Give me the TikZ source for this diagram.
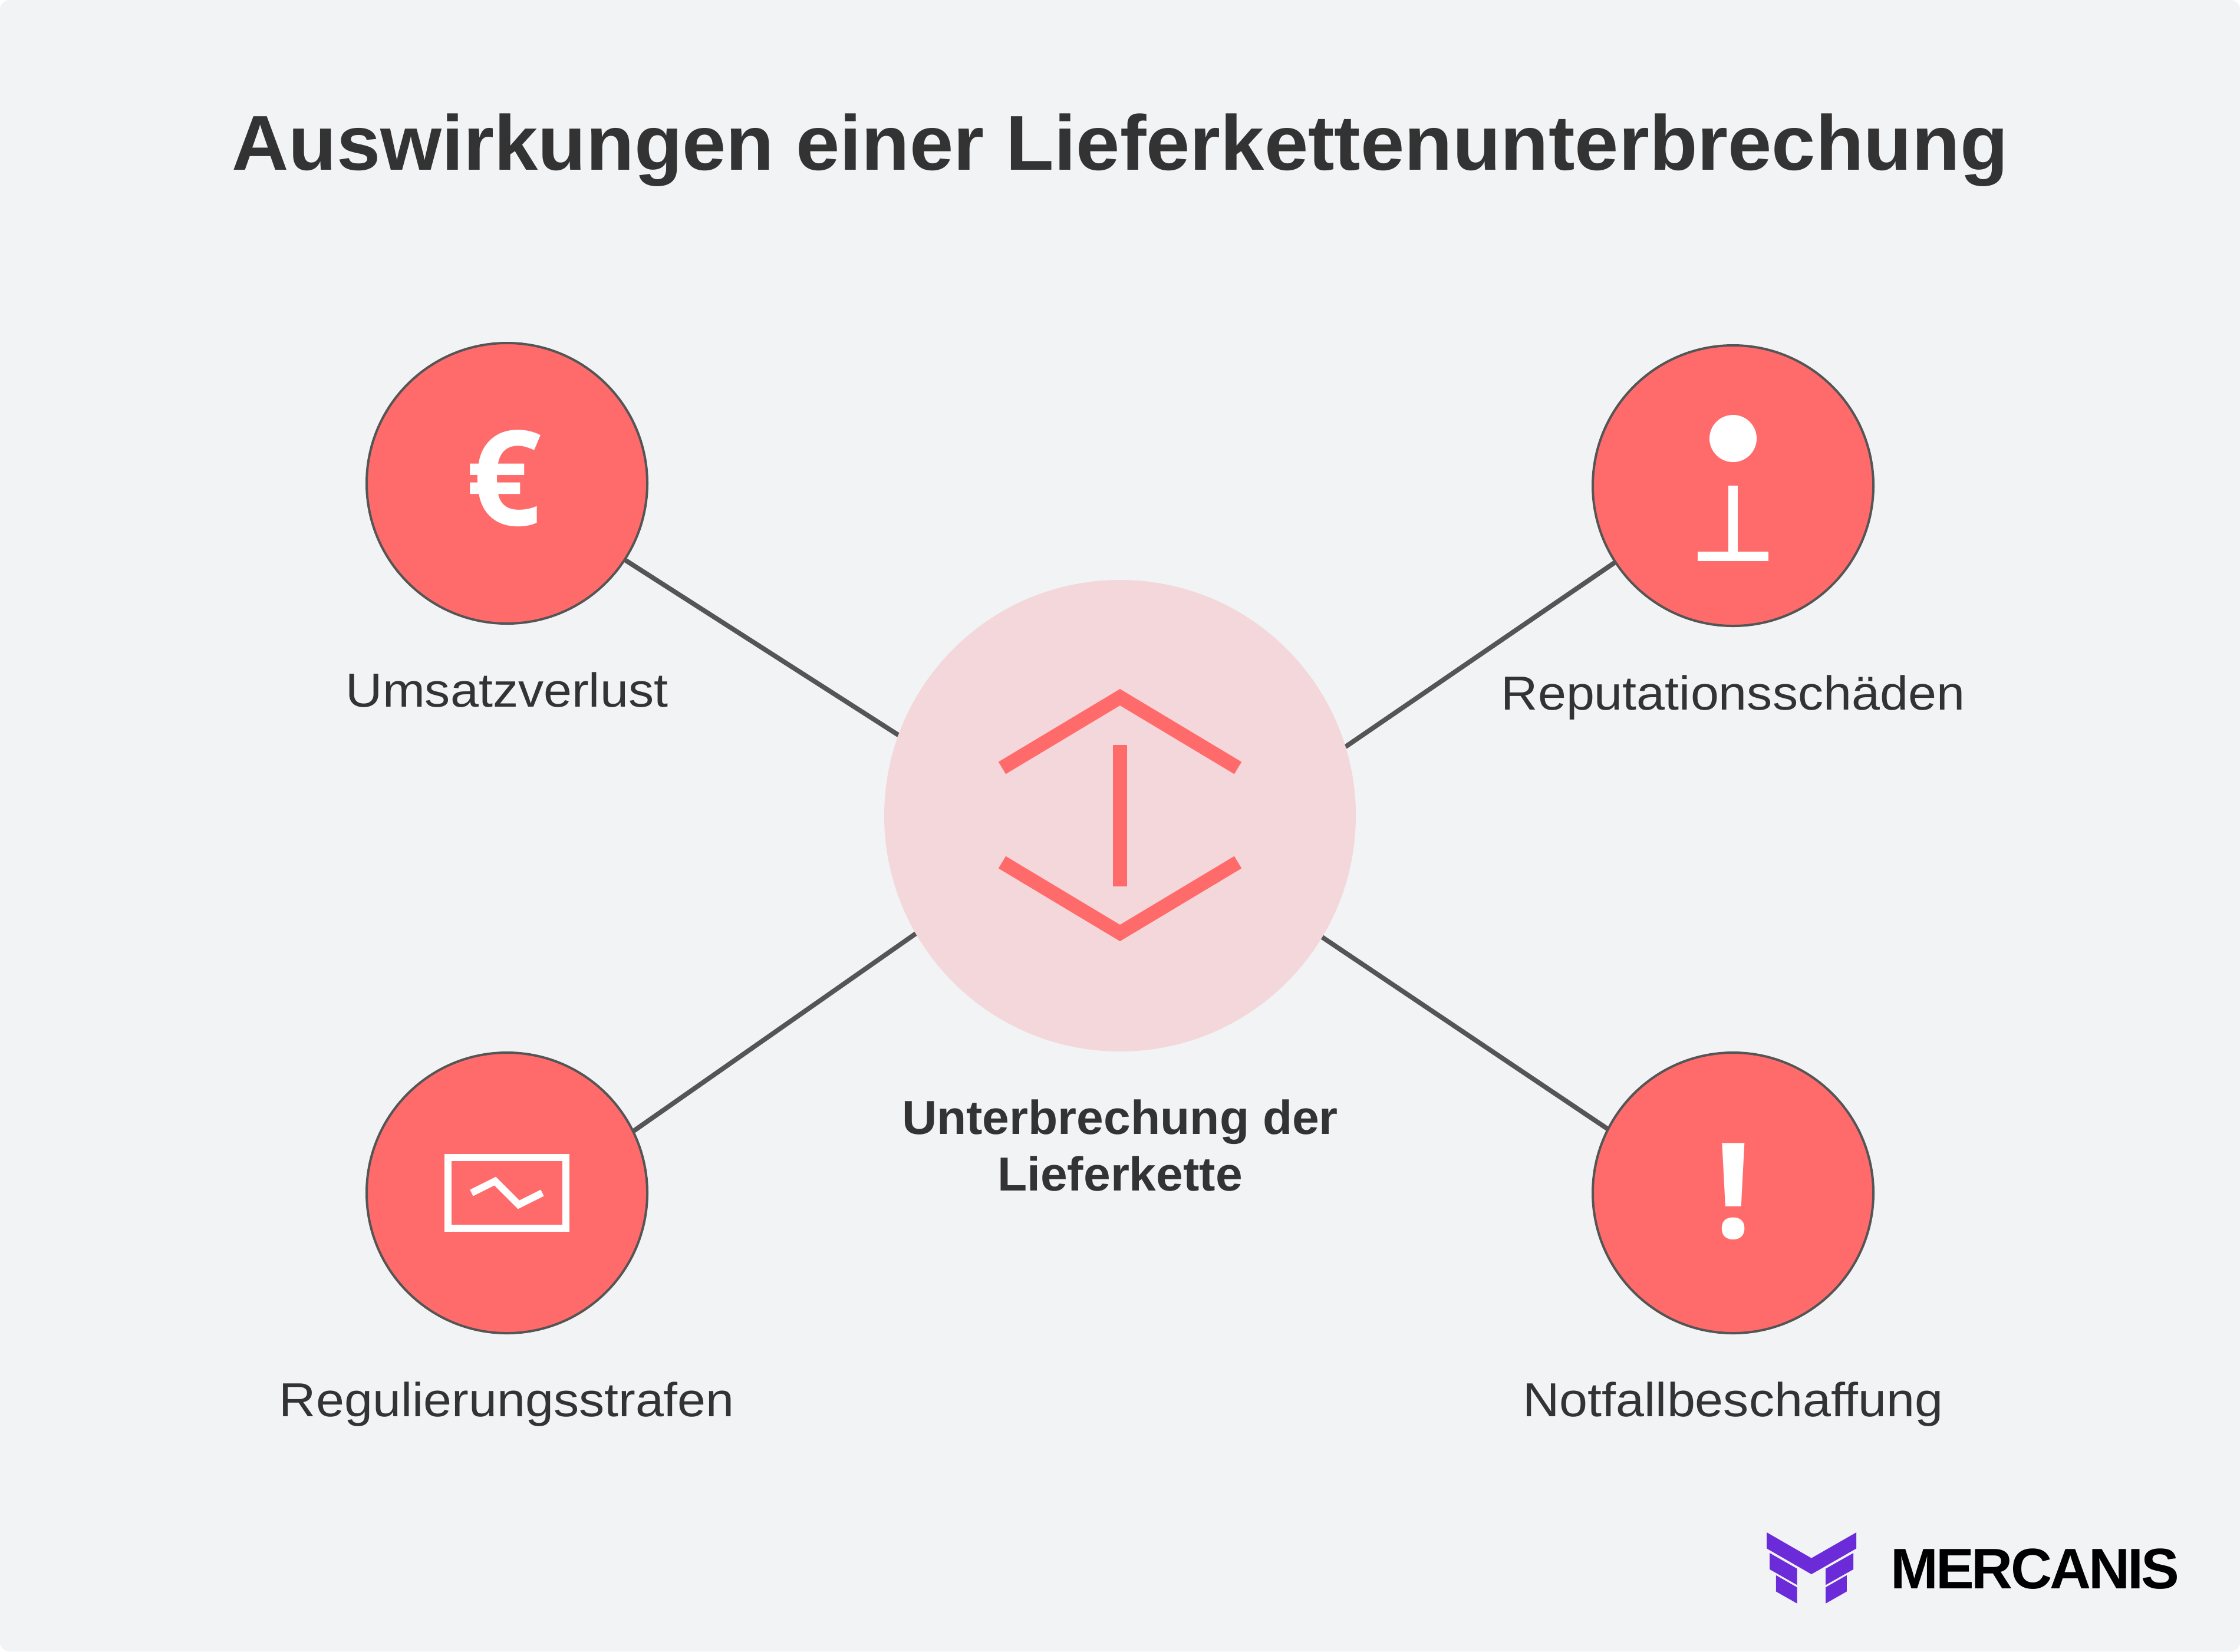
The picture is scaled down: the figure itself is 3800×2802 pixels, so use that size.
\documentclass[tikz,border=0pt]{standalone}
\usepackage{fontspec}
\usetikzlibrary{backgrounds}
\setmainfont{Liberation Sans}
\newfontfamily\iconfont{Open Sans}
\newfontfamily\logofont[LetterSpace=-4]{Liberation Sans}
\newfontfamily\titlefont[FakeStretch=1.012]{Liberation Sans}
\newfontfamily\hubfont[FakeStretch=1.015]{Liberation Sans}
\newfontfamily\lblfont[FakeStretch=1.065]{Liberation Sans}
\definecolor{bgc}{HTML}{F1F3F5}
\definecolor{coral}{HTML}{FF6B6B}
\definecolor{hubc}{HTML}{F4D7DA}
\definecolor{linec}{HTML}{555555}
\definecolor{textc}{HTML}{333333}
\definecolor{purp}{HTML}{6C2BD9}
\tikzset{
  x=0.2pt,y=-0.2pt,
  spoke/.style={circle,fill=coral,draw=linec,line width=0.8pt,minimum size=95.2pt,inner sep=0pt,outer sep=0pt},
  hub/.style={circle,fill=hubc,minimum size=160pt,inner sep=0pt,outer sep=0pt},
  link/.style={draw=linec,line width=1.6pt},
  hubicon/.style={draw=coral,line width=4.8pt,miter limit=10},
  whiteline/.style={draw=white,line width=2.4pt,miter limit=10},
  lbl/.style={anchor=base,text=textc,font=\lblfont\fontsize{16.2}{20}\selectfont,inner sep=0pt},
  hublbl/.style={anchor=base,text=textc,font=\hubfont\bfseries\fontsize{16.2}{20}\selectfont,inner sep=0pt},
  glyph/.style={anchor=base,text=white,inner sep=0pt,font=\iconfont\bfseries\fontsize{45}{54}\selectfont},
  logopoly/.style={fill=purp,draw=none},
}
\begin{document}
\begin{tikzpicture}
\useasboundingbox (0,0) rectangle (3800,2802);
\begin{scope}[on background layer]
\fill[white] (0,0) rectangle (3800,2802);
\fill[bgc,rounded corners=3.2pt] (0,0) rectangle (3800,2802);
\end{scope}
\node[anchor=base,text=textc,inner sep=0pt,font=\titlefont\bfseries\fontsize{26.4}{32}\selectfont] (title) at (1900,288) {Auswirkungen einer Lieferkettenunterbrechung};
\node[hub] (center) at (1900,1384) {};
\node[spoke] (s1) at (860,820) {};
\node[spoke] (s2) at (2940,824) {};
\node[spoke] (s3) at (860,2024) {};
\node[spoke] (s4) at (2940,2024) {};
\begin{scope}[on background layer]
\draw[link] (s1.-33.4) -- (center.160.6);
\draw[link] (s2.213.2) -- (center.17.4);
\draw[link] (s3.26.5) -- (center.210.3);
\draw[link] (s4.153.5) -- (center.-31.4);
\end{scope}
% hub icon
\draw[hubicon] (1700,1303) -- (1900,1183) -- (2100,1303);
\draw[hubicon] (1700,1463) -- (1900,1583) -- (2100,1463);
\draw[hubicon] (1900,1264) -- (1900,1504);
% icons
\node[glyph] (euro) at (855,891) {€};
\node[glyph] (bang) at (2941,2100) {!};
\fill[white] (2940,744) circle [radius=40];
\fill[white] (2932,824) rectangle (2948,940);
\fill[white] (2880,936) rectangle (3000,952);
\draw[whiteline] (760,1964) rectangle (960,2084);
\draw[whiteline] (800,2024) -- (840,2004) -- (880,2044) -- (920,2024);
% labels
\node[lbl] (l1) at (860,1199) {Umsatzverlust};
\node[lbl] (l2) at (2940,1204) {Reputationsschäden};
\node[lbl] (l3) at (860,2403) {Regulierungsstrafen};
\node[lbl] (l4) at (2940,2403) {Notfallbeschaffung};
\node[hublbl] (h1) at (1900,1924) {Unterbrechung der};
\node[hublbl] (h2) at (1900,2020) {Lieferkette};
% logo
\fill[logopoly] (2997.1,2600) -- (3072.9,2643.7) -- (3149.2,2600) -- (3149.2,2627.3) -- (3072.9,2671) -- (2997.1,2627.3) -- cycle;
\fill[logopoly] (3002.1,2635) -- (3048.7,2661.7) -- (3048.7,2689.3) -- (3002.1,2662.7) -- cycle;
\fill[logopoly] (3144.1,2635) -- (3097,2661.7) -- (3097,2689.3) -- (3144.1,2662.7) -- cycle;
\fill[logopoly] (3012.8,2672.7) -- (3048.7,2693.3) -- (3048.7,2720.7) -- (3012.8,2700.3) -- cycle;
\fill[logopoly] (3132.9,2672.7) -- (3097,2693.3) -- (3097,2720.7) -- (3132.9,2700.3) -- cycle;
\node[anchor=base west,inner sep=0pt,text=black,font=\logofont\bfseries\fontsize{19.4}{24}\selectfont] (brand) at (3206,2695) {MERCANIS};
\end{tikzpicture}
\end{document}
